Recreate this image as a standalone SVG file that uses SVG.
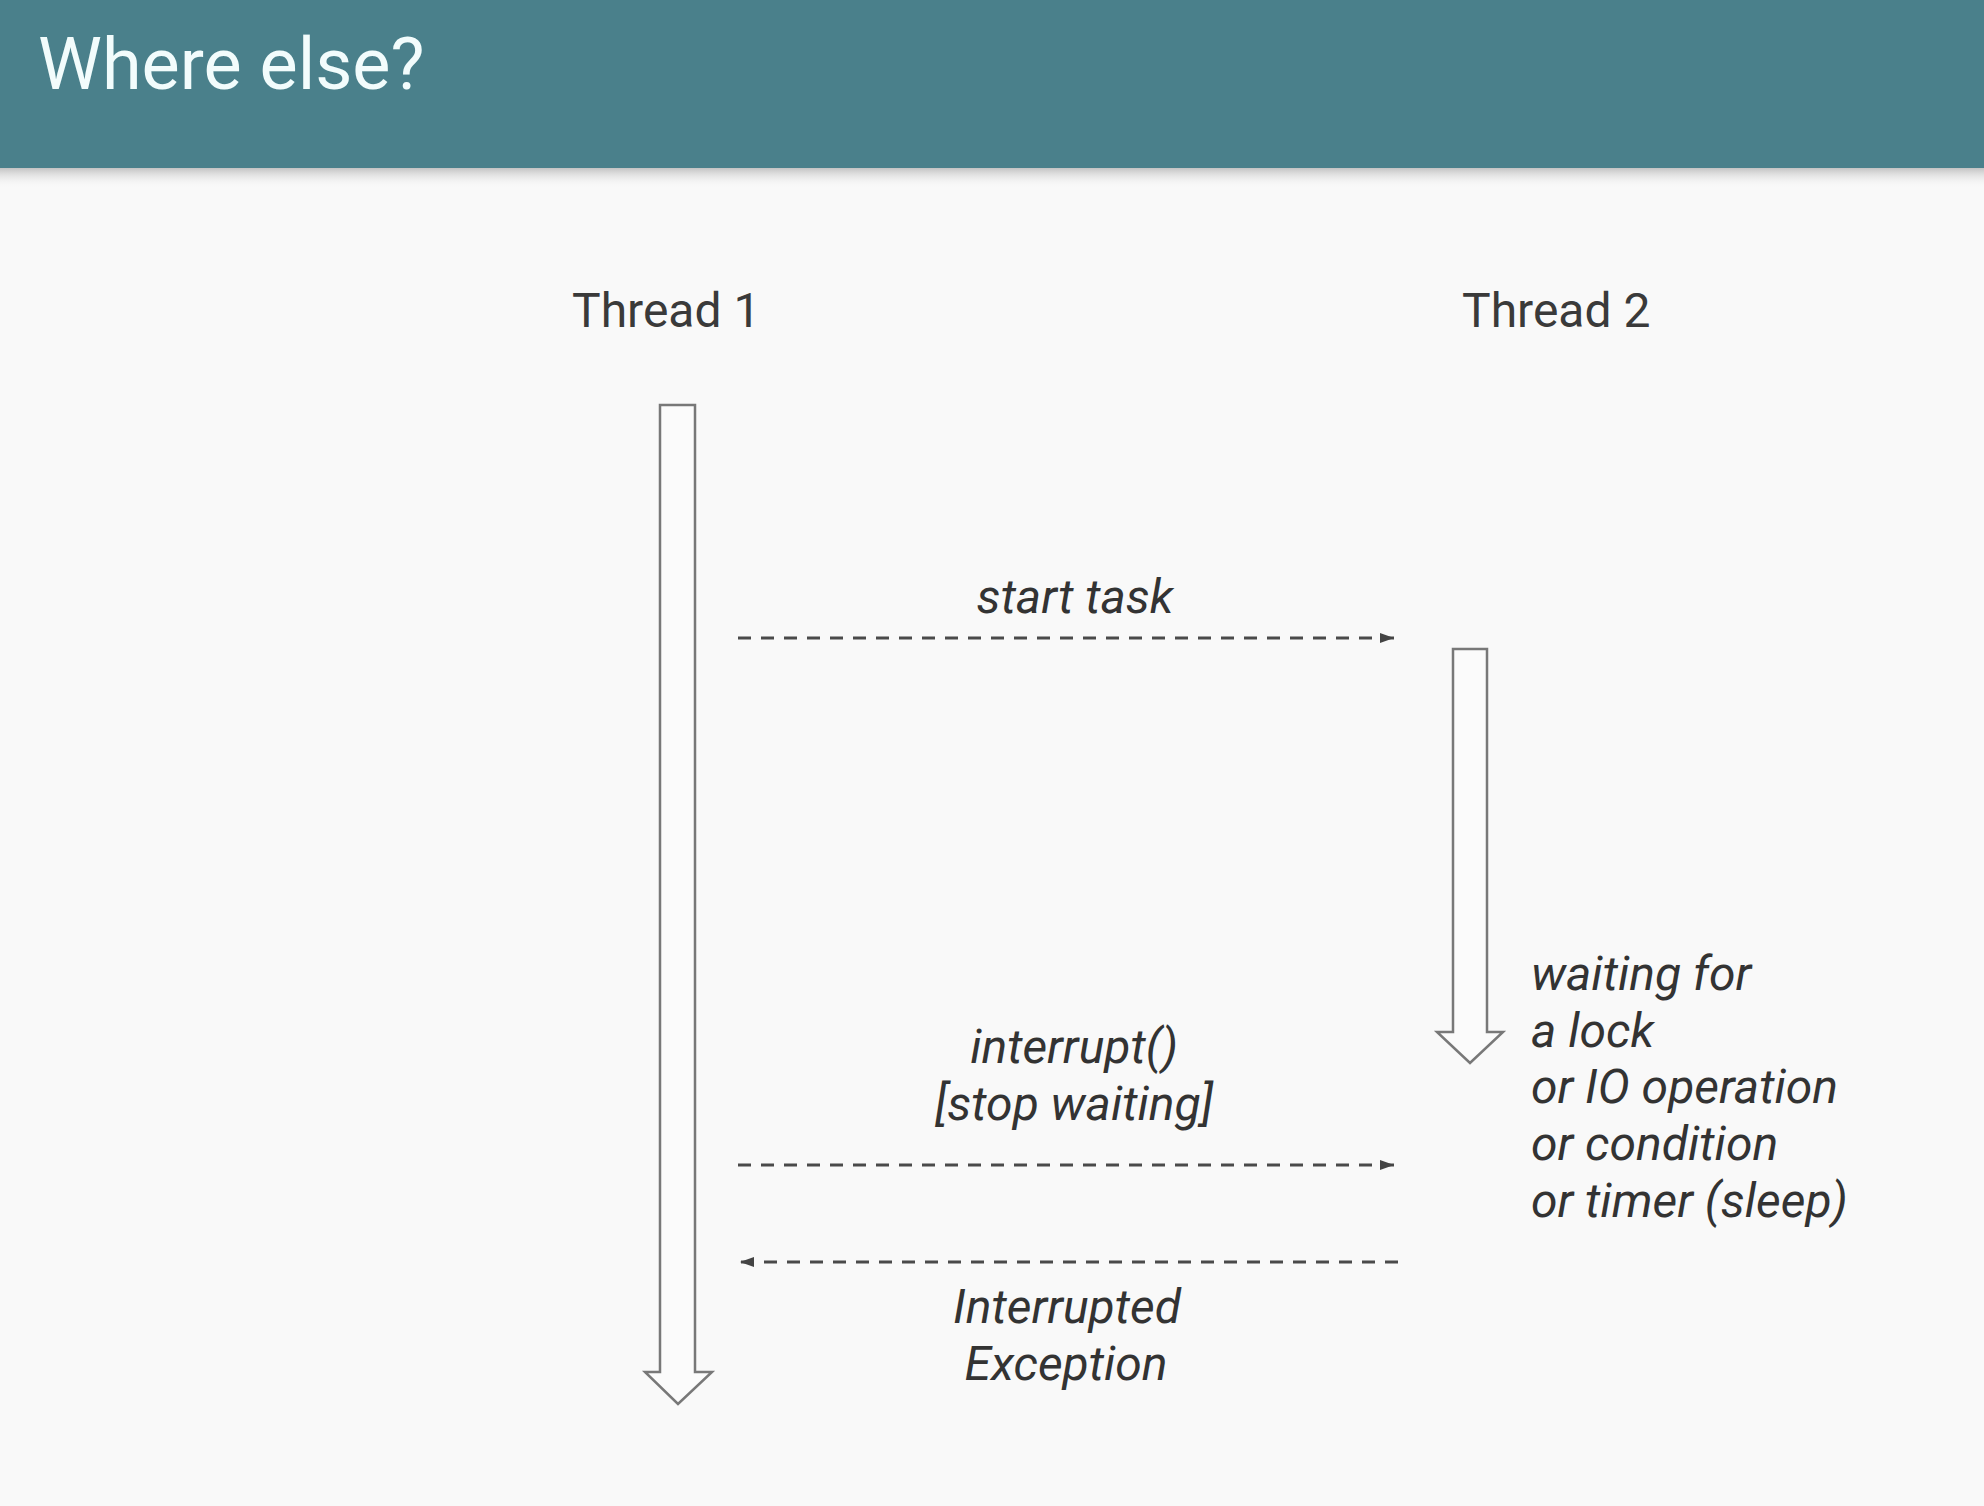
<svg xmlns="http://www.w3.org/2000/svg" width="1984" height="1506" viewBox="0 0 1984 1506">
  <defs>
    <linearGradient id="shadow" x1="0" y1="0" x2="0" y2="1">
      <stop offset="0" stop-color="#bdbdbd" stop-opacity="0.9"/>
      <stop offset="1" stop-color="#f9f9f9" stop-opacity="0"/>
    </linearGradient>
    <marker id="head" markerUnits="userSpaceOnUse" markerWidth="16" markerHeight="12" refX="14" refY="6" orient="auto-start-reverse">
      <path d="M0,1 L14,6 L0,11 Z" fill="#444"/>
    </marker>
    <style>
      .lbl { font-family: Roboto, "Liberation Sans", sans-serif; font-size: 48px; fill: #3a3a3a; }
      .it { font-family: Roboto, "Liberation Sans", sans-serif; font-size: 48px; font-style: italic; fill: #333; }
      .mid { text-anchor: middle; }
      .lane { fill: #fbfbfb; stroke: #787878; stroke-width: 2.5; stroke-linejoin: miter; }
      .msg { stroke: #4a4a4a; stroke-width: 2.8; stroke-dasharray: 13 10; fill: none; }
    </style>
  </defs>
  <rect x="0" y="0" width="1984" height="1506" fill="#f9f9f9"/>
  <rect x="0" y="168" width="1984" height="20" fill="url(#shadow)"/>
  <g id="header">
    <rect x="0" y="0" width="1984" height="168" fill="#4a808b"/>
    <text x="38" y="89" font-family="Roboto, 'Liberation Sans', sans-serif" font-size="72" fill="#f2fcfc">Where else?</text>
  </g>
  <g id="thread1">
    <text class="lbl" x="572" y="327">Thread 1</text>
    <path class="lane" d="M660,405 H695 V1372 H712 L678,1404 L645,1372 H660 Z"/>
  </g>
  <g id="thread2">
    <text class="lbl" x="1462" y="327">Thread 2</text>
    <path class="lane" d="M1453,649 H1487 V1032 H1503 L1470,1063 L1437,1032 H1453 Z"/>
  </g>
  <g id="waiting-note">
    <text class="it" x="1531" y="990">waiting for</text>
    <text class="it" x="1531" y="1047">a lock</text>
    <text class="it" x="1531" y="1103">or IO operation</text>
    <text class="it" x="1531" y="1160">or condition</text>
    <text class="it" x="1531" y="1217">or timer (sleep)</text>
  </g>
  <g id="connectors">
    <line class="msg" x1="738" y1="638" x2="1394" y2="638" marker-end="url(#head)"/>
    <line class="msg" x1="738" y1="1165" x2="1394" y2="1165" marker-end="url(#head)"/>
    <line class="msg" x1="1398" y1="1262" x2="740" y2="1262" marker-end="url(#head)"/>
    <text class="it mid" x="1075" y="613">start task</text>
    <text class="it mid" x="1074" y="1063">interrupt()</text>
    <text class="it mid" x="1074" y="1120">[stop waiting]</text>
    <text class="it mid" x="1067" y="1323">Interrupted</text>
    <text class="it mid" x="1066" y="1380">Exception</text>
  </g>
</svg>
